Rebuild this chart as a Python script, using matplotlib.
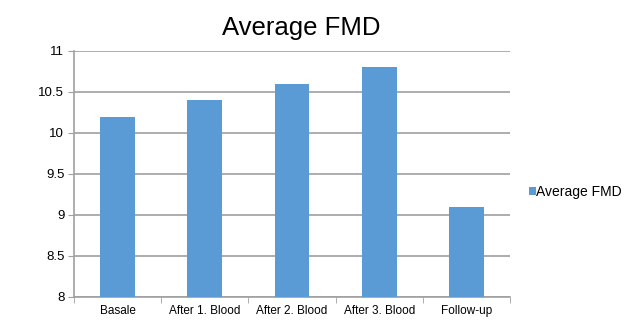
import matplotlib
matplotlib.use("Agg")
import matplotlib.pyplot as plt
import numpy as np

plt.rcParams['font.family'] = ['Liberation Sans', 'DejaVu Sans']

categories = ['Basale', 'After 1. Blood', 'After 2. Blood', 'After 3. Blood', 'Follow-up']
fmd_values = [10.2, 10.4, 10.6, 10.8, 9.1]
y_ticks = [8, 8.5, 9, 9.5, 10, 10.5, 11]
y_labels = ['8', '8.5', '9', '9.5', '10', '10.5', '11']

bar_color = '#5B9BD5'
grid_color = '#A0A0A0'

fig = plt.figure(figsize=(6.25, 3.2), dpi=100)
ax = fig.add_axes([0.1184, 0.0719, 0.6976, 0.769])

x = np.arange(len(categories))
ax.bar(x, fmd_values, width=0.40, color=bar_color, label='Average FMD', zorder=3)

ax.set_xlim(-0.5, len(categories) - 0.5)
ax.set_ylim(8, 11)
ax.set_yticks(y_ticks)
ax.set_yticklabels(y_labels, fontsize=9.5)
ax.yaxis.grid(True, color=grid_color, linewidth=1.2, zorder=0)

ax.set_xticks(x)
ax.set_xticklabels(categories, fontsize=8.5)
ax.tick_params(axis='x', length=0, pad=6)
ax.set_xticks(np.arange(len(categories) + 1) - 0.5, minor=True)
ax.tick_params(axis='x', which='minor', length=4, color=grid_color, direction='out')
ax.tick_params(axis='y', length=4, color=grid_color, pad=3)

for side in ['top', 'right']:
    ax.spines[side].set_visible(False)
for side in ['left', 'bottom']:
    ax.spines[side].set_color(grid_color)
    ax.spines[side].set_linewidth(1.2)

ax.set_title('Average FMD', fontsize=18.5, pad=11.5, x=0.522)

ax.legend(loc='center left', bbox_to_anchor=(1.03, 0.427), frameon=False,
          borderaxespad=0, fontsize=10, handlelength=0.5, handleheight=0.5,
          handletextpad=0.0)

fig.savefig('out.png', dpi=100)
